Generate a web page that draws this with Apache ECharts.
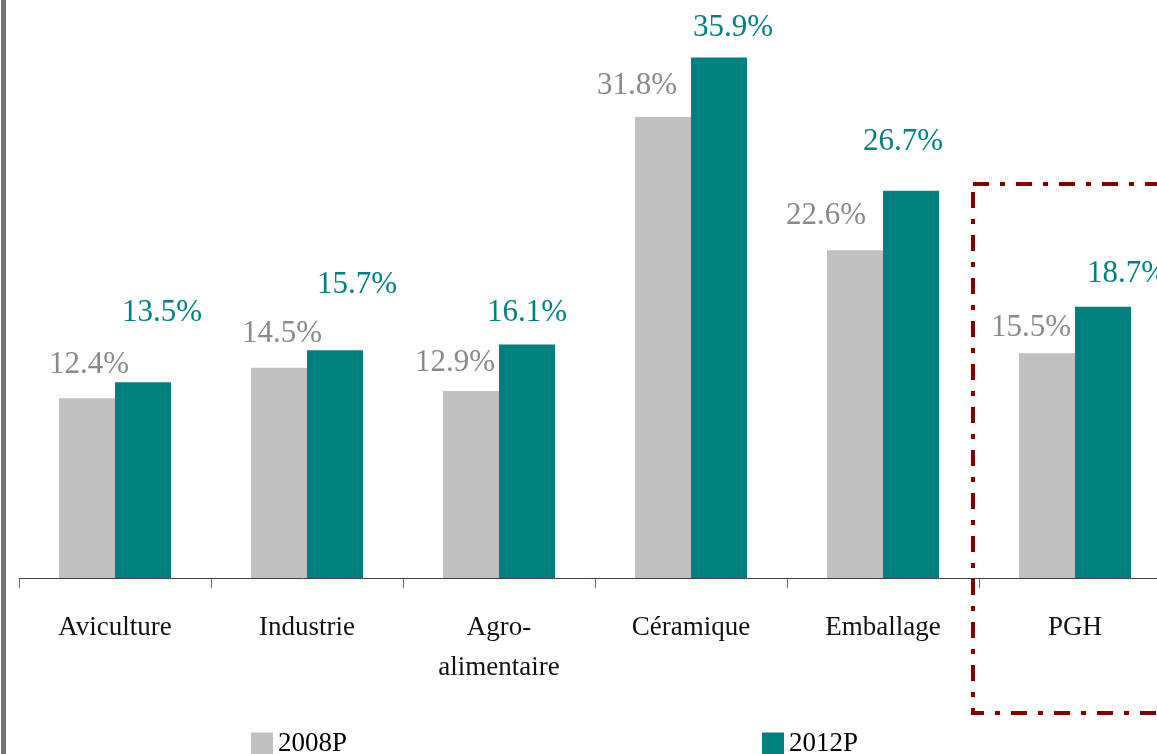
<!DOCTYPE html>
<html>
<head>
<meta charset="utf-8">
<script src="https://cdn.jsdelivr.net/npm/echarts@6/dist/echarts.min.js"></script>
<style>
  html, body { margin: 0; padding: 0; background: #fff; }
  #chartDiv { width: 1157px; height: 754px; }
</style>
</head>
<body>
<div id="chartDiv"></div>
<script>
// categories and values
var categories = ["Aviculture", "Industrie", "Agro-\nalimentaire", "Céramique", "Emballage", "PGH"];
var values2008 = [12.4, 14.5, 12.9, 31.8, 22.6, 15.5];
var values2012 = [13.5, 15.7, 16.1, 35.9, 26.7, 18.7];

// label nudges (the labels were moved by hand in the original)
var shift2008 = [[2, -33], [3, -34], [-16, -28], [-26, -31], [-29, -34], [-16, -25]];
var shift2012 = [[19, -69], [22, -65], [0, -32], [14, -30], [-8, -49], [24, -33]];

var serif = "'Liberation Serif', 'DejaVu Serif', serif";

function withLabels(vals, shifts) {
  return vals.map(function (v, i) {
    return {
      value: v,
      label: { offset: [shifts[i][0], shifts[i][1] + 15] }
    };
  });
}

var myChart = echarts.init(document.getElementById("chartDiv"));
var option = {
  animation: false,
  grid: { left: 19, top: -2, width: 1152, height: 580, outerBoundsMode: "none", containLabel: false },
  legend: [
    {
      data: ["2008P"], left: 246, top: 725, itemWidth: 22, itemHeight: 22, itemGap: 0,
      icon: "rect", textStyle: { fontFamily: serif, fontSize: 27, color: "#000" }
    },
    {
      data: ["2012P"], left: 757, top: 725, itemWidth: 22, itemHeight: 22, itemGap: 0,
      icon: "rect", textStyle: { fontFamily: serif, fontSize: 27, color: "#000" }
    }
  ],
  xAxis: {
    type: "category",
    data: categories,
    axisLine: { lineStyle: { color: "#404040", width: 1 } },
    axisTick: { show: true, length: 10, lineStyle: { color: "#707070" } },
    axisLabel: {
      interval: 0, margin: 30, fontFamily: serif, fontSize: 27,
      color: "#111", lineHeight: 40
    }
  },
  yAxis: { type: "value", min: 0, max: 40, show: false },
  series: [
    {
      name: "2008P", type: "bar", barWidth: 56, barGap: "0%",
      itemStyle: { color: "#C0C0C0" },
      label: {
        show: true, position: "top", distance: 0, lineHeight: 30,
        fontFamily: serif, fontSize: 31, color: "#8a8a8a",
        formatter: function (p) { return p.value.toFixed(1) + "%"; }
      },
      data: withLabels(values2008, shift2008)
    },
    {
      name: "2012P", type: "bar", barWidth: 56, barGap: "0%",
      itemStyle: { color: "#008080" },
      label: {
        show: true, position: "top", distance: 0, lineHeight: 30,
        fontFamily: serif, fontSize: 31, color: "#008080",
        formatter: function (p) { return p.value.toFixed(1) + "%"; }
      },
      data: withLabels(values2012, shift2012)
    }
  ],
  graphic: [
    {
      type: "rect", left: 1, top: 0,
      shape: { width: 5, height: 754 },
      style: { fill: "#737373" }
    },
    {
      type: "rect", z: 100,
      shape: { x: 973, y: 184, width: 300, height: 529 },
      style: { fill: "none", stroke: "#800000", lineWidth: 4, lineDash: [16, 11, 5, 11] }
    }
  ]
};
myChart.setOption(option);
</script>
</body>
</html>
